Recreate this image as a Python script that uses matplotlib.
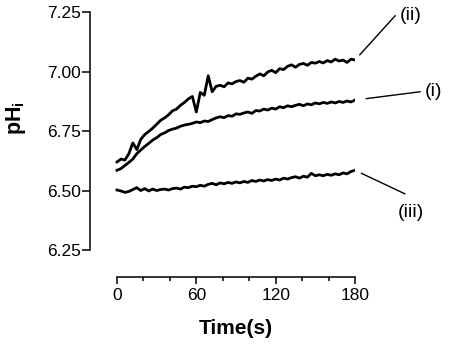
import numpy as np
import matplotlib
matplotlib.use("Agg")
import matplotlib.pyplot as plt

plt.rcParams['font.family'] = ['Liberation Sans', 'DejaVu Sans']
plt.rcParams['mathtext.fontset'] = 'custom'
plt.rcParams['mathtext.rm'] = 'Liberation Sans'
plt.rcParams['mathtext.bf'] = 'Liberation Sans:bold'

# time axis, seconds (sampled every 3 s)
time_s = np.arange(0, 181, 3)

# trace (ii)
ph_ii = [6.620, 6.632, 6.628, 6.655, 6.700, 6.672, 6.715, 6.735, 6.748, 6.762,
         6.778, 6.795, 6.805, 6.818, 6.835, 6.842, 6.858, 6.870, 6.885, 6.895,
         6.830, 6.912, 6.900, 6.982, 6.915, 6.938, 6.942, 6.936, 6.952, 6.948,
         6.958, 6.962, 6.955, 6.972, 6.968, 6.980, 6.990, 6.982, 6.998, 7.005,
         6.995, 7.012, 7.008, 7.022, 7.028, 7.018, 7.030, 7.034, 7.026, 7.038,
         7.035, 7.042, 7.036, 7.046, 7.040, 7.052, 7.044, 7.048, 7.038, 7.052,
         7.048]

# trace (i)
ph_i = [6.585, 6.592, 6.605, 6.618, 6.632, 6.655, 6.670, 6.685, 6.698, 6.712,
        6.722, 6.735, 6.742, 6.752, 6.758, 6.762, 6.770, 6.775, 6.778, 6.782,
        6.788, 6.785, 6.792, 6.790, 6.798, 6.805, 6.810, 6.806, 6.815, 6.812,
        6.822, 6.820, 6.826, 6.830, 6.824, 6.836, 6.834, 6.842, 6.838, 6.846,
        6.842, 6.852, 6.848, 6.856, 6.852, 6.858, 6.862, 6.856, 6.864, 6.860,
        6.868, 6.864, 6.870, 6.866, 6.872, 6.868, 6.874, 6.870, 6.876, 6.872,
        6.880]

# trace (iii)
ph_iii = [6.502, 6.498, 6.492, 6.496, 6.504, 6.512, 6.500, 6.508, 6.498, 6.506,
          6.500, 6.504, 6.506, 6.502, 6.508, 6.510, 6.506, 6.514, 6.512, 6.518,
          6.516, 6.522, 6.518, 6.526, 6.530, 6.524, 6.532, 6.528, 6.534, 6.530,
          6.536, 6.532, 6.538, 6.534, 6.542, 6.538, 6.544, 6.540, 6.546, 6.542,
          6.548, 6.544, 6.552, 6.548, 6.554, 6.558, 6.552, 6.560, 6.556, 6.572,
          6.562, 6.566, 6.562, 6.568, 6.564, 6.570, 6.566, 6.574, 6.570, 6.580,
          6.585]

y_ticks = [6.25, 6.50, 6.75, 7.00, 7.25]
x_ticks = [0, 60, 120, 180]

fig = plt.figure(figsize=(4.5, 3.44), dpi=100)
ax = fig.add_axes([0.2, 0.1948, 0.5889, 0.7703])

for ys in (ph_ii, ph_i, ph_iii):
    ax.plot(time_s, ys, color='black', lw=2.0)

ax.set_xlim(-20.4, 180)
ax.set_ylim(6.1366, 7.25)

ax.spines['top'].set_visible(False)
ax.spines['right'].set_visible(False)
ax.spines['left'].set_bounds(6.25, 7.25)
ax.spines['bottom'].set_bounds(0, 180)
for s in ('left', 'bottom'):
    ax.spines[s].set_linewidth(1.1)

ax.set_yticks(y_ticks)
ax.set_yticklabels([f'{v:.2f}' for v in y_ticks])
ax.set_xticks(x_ticks)
ax.set_xticks(np.arange(0, 181, 20), minor=True)
ax.tick_params(axis='y', length=5.8, width=1.1, pad=1, labelsize=12.5)
ax.tick_params(axis='x', which='major', length=5, width=1.1, pad=3, labelsize=12.5)
ax.tick_params(axis='x', which='minor', length=3, width=1.1)

ax.set_xlabel('Time(s)', fontsize=15, fontweight='bold', va='top')
ax.xaxis.set_label_coords(0.551, -0.158)
ax.set_ylabel(r'$\mathbf{pH_i}$', fontsize=15.5, va='center')
ax.yaxis.set_label_coords(-0.279, 0.6)

# labels with leader lines: (text, trace, line end offset pt, gap pt, ha, va)
labels = [('(ii)', ph_ii, (29, 32), 5, 'left', 'center'),
          ('(i)', ph_i, (47, 6), 8, 'left', 'center'),
          ('(iii)', ph_iii, (36, -17), 5, 'center', 'top')]
for txt, ys, end, gap, ha, va in labels:
    ax.annotate('', xy=(time_s[-1], ys[-1]), xytext=end,
                textcoords='offset points', annotation_clip=False,
                arrowprops=dict(arrowstyle='-', lw=1.0, color='black',
                                shrinkA=0, shrinkB=gap))
    off = (end[0] + 3, end[1]) if ha == 'left' else (end[0] + 4, end[1] - 7)
    ax.annotate(txt, xy=(time_s[-1], ys[-1]), xytext=off,
                textcoords='offset points', ha=ha, va=va, fontsize=14,
                annotation_clip=False)

fig.savefig('out.png', dpi=100)
